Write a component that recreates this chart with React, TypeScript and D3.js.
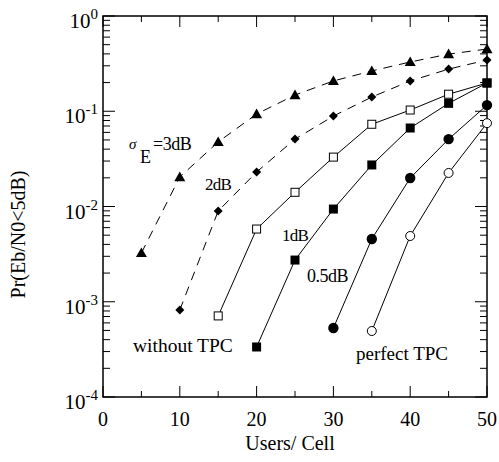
import React from 'react';
import * as d3 from 'd3';

// users per cell for each curve, and the probability
const sigma3Users = [5, 10, 15, 20, 25, 30, 35, 40, 45, 50];
const sigma3Pr = [3.25e-3, 0.0204, 0.0476, 0.0935, 0.148, 0.208, 0.265, 0.329, 0.398, 0.45];
const sigma2Users = [10, 15, 20, 25, 30, 35, 40, 45, 50];
const sigma2Pr = [8.2e-4, 8.97e-3, 0.023, 0.051, 0.089, 0.141, 0.208, 0.277, 0.345];
const openSquareUsers = [15, 20, 25, 30, 35, 40, 45, 50];
const openSquarePr = [7.1e-4, 5.8e-3, 0.0141, 0.033, 0.073, 0.103, 0.151, 0.198];
const filledSquareUsers = [20, 25, 30, 35, 40, 45, 50];
const filledSquarePr = [3.35e-4, 2.74e-3, 9.4e-3, 0.0273, 0.0667, 0.121, 0.198];
const filledCircleUsers = [30, 35, 40, 45, 50];
const filledCirclePr = [5.3e-4, 4.56e-3, 0.0199, 0.051, 0.116];
const openCircleUsers = [35, 40, 45, 50];
const openCirclePr = [4.93e-4, 4.9e-3, 0.0225, 0.075];

const xTicks = [0, 10, 20, 30, 40, 50];
const xMinorTicks = [5, 15, 25, 35, 45];
const yExponents = [0, -1, -2, -3, -4];

const W = 499, H = 462;
const margin = { top: 16, right: 12, bottom: 65, left: 103 };
const font = '"Liberation Serif", "Times New Roman", serif';

const x = d3.scaleLinear().domain([0, 50]).range([margin.left, W - margin.right]);
const y = d3.scaleLog().domain([1e-4, 1]).range([H - margin.bottom, margin.top]);

type P = { u: number; p: number };
const zip = (us: number[], ps: number[]): P[] => us.map((u, i) => ({ u, p: ps[i] }));

const line = d3.line<P>().x(d => x(d.u)).y(d => y(d.p));

function Marker({ kind, cx, cy }: { kind: string; cx: number; cy: number }) {
  if (kind === 'tri') {
    const s = 5.5;
    return <path d={`M${cx},${cy - s}L${cx + s},${cy + s * 0.75}L${cx - s},${cy + s * 0.75}Z`} fill="#000" />;
  }
  if (kind === 'dia') {
    const s = 4.5;
    return <path d={`M${cx},${cy - s}L${cx + s},${cy}L${cx},${cy + s}L${cx - s},${cy}Z`} fill="#000" />;
  }
  if (kind === 'sqo') return <rect x={cx - 4} y={cy - 4} width={8} height={8} fill="#fff" stroke="#000" strokeWidth={1} />;
  if (kind === 'sqf') return <rect x={cx - 4.5} y={cy - 4.5} width={9} height={9} fill="#000" />;
  if (kind === 'cf') return <circle cx={cx} cy={cy} r={5.2} fill="#000" />;
  return <circle cx={cx} cy={cy} r={4.5} fill="#fff" stroke="#000" strokeWidth={1} />;
}

const series = [
  { data: zip(sigma3Users, sigma3Pr), dash: '9,7', kind: 'tri' },
  { data: zip(sigma2Users, sigma2Pr), dash: '9,7', kind: 'dia' },
  { data: zip(openSquareUsers, openSquarePr), dash: null, kind: 'sqo' },
  { data: zip(filledSquareUsers, filledSquarePr), dash: null, kind: 'sqf' },
  { data: zip(filledCircleUsers, filledCirclePr), dash: null, kind: 'cf' },
  { data: zip(openCircleUsers, openCirclePr), dash: null, kind: 'co' },
];

export default function App() {
  const x0 = margin.left, x1 = W - margin.right;
  const y0 = H - margin.bottom, y1 = margin.top;
  const minorY: number[] = [];
  for (let e = -4; e < 0; e++) for (let m = 2; m <= 9; m++) minorY.push(m * Math.pow(10, e));

  return (
    <svg width={W} height={H} style={{ position: 'absolute', left: 0, top: 0, background: '#fff' }} fontFamily={font}>
      {/* frame */}
      <rect x={x0} y={y1} width={x1 - x0} height={y0 - y1} fill="none" stroke="#000" strokeWidth={1.5} />

      {/* x ticks, bottom and top, inward */}
      {xTicks.map(t => (
        <g key={'xt' + t}>
          <line x1={x(t)} x2={x(t)} y1={y0} y2={y0 - 11} stroke="#000" strokeWidth={1} />
          <line x1={x(t)} x2={x(t)} y1={y1} y2={y1 + 11} stroke="#000" strokeWidth={1} />
          <text x={x(t)} y={y0 + 29} fontSize={20} textAnchor="middle">{t}</text>
        </g>
      ))}
      {xMinorTicks.map(t => (
        <g key={'xm' + t}>
          <line x1={x(t)} x2={x(t)} y1={y0} y2={y0 - 6} stroke="#000" strokeWidth={1} />
          <line x1={x(t)} x2={x(t)} y1={y1} y2={y1 + 6} stroke="#000" strokeWidth={1} />
        </g>
      ))}

      {/* y ticks, log decades */}
      {yExponents.map(e => (
        <g key={'ye' + e}>
          <line x1={x0} x2={x0 + 12} y1={y(Math.pow(10, e))} y2={y(Math.pow(10, e))} stroke="#000" strokeWidth={1} />
          <line x1={x1} x2={x1 - 12} y1={y(Math.pow(10, e))} y2={y(Math.pow(10, e))} stroke="#000" strokeWidth={1} />
          <text x={98} y={y(Math.pow(10, e)) + 12} fontSize={21} textAnchor="end">
            10<tspan dy={-9} fontSize={15}>{e === 0 ? '0' : '-' + Math.abs(e)}</tspan>
          </text>
        </g>
      ))}
      {minorY.map(v => (
        <g key={'ym' + v}>
          <line x1={x0} x2={x0 + 7} y1={y(v)} y2={y(v)} stroke="#000" strokeWidth={1} />
          <line x1={x1} x2={x1 - 7} y1={y(v)} y2={y(v)} stroke="#000" strokeWidth={1} />
        </g>
      ))}

      {/* axis titles */}
      <text x={(x0 + x1) / 2 - 5} y={450} fontSize={20} textAnchor="middle">Users/ Cell</text>
      <text transform={`translate(25,${(y0 + y1) / 2 + 28}) rotate(-90)`} fontSize={20} textAnchor="middle">Pr(Eb/N0&lt;5dB)</text>

      {/* curves */}
      {series.map((s, i) => (
        <path key={'l' + i} d={line(s.data) || ''} fill="none" stroke="#000" strokeWidth={1} strokeDasharray={s.dash || undefined} />
      ))}
      {series.map((s, i) => (
        <g key={'m' + i}>
          {s.data.map(d => <Marker key={d.u} kind={s.kind} cx={x(d.u)} cy={y(d.p)} />)}
        </g>
      ))}

      {/* annotations */}
      <text x={129} y={149} fontSize={15} fontStyle="italic">σ</text>
      <text x={140} y={163} fontSize={18}>E</text>
      <text x={153} y={150} fontSize={18} letterSpacing={-0.5}>=3dB</text>
      <text x={205} y={190} fontSize={17} letterSpacing={-0.8}>2dB</text>
      <text x={282} y={241} fontSize={17} letterSpacing={-0.8}>1dB</text>
      <text x={307} y={282} fontSize={18} letterSpacing={-0.5}>0.5dB</text>
      <text x={133} y={352} fontSize={19.5}>without TPC</text>
      <text x={356} y={360} fontSize={19}>perfect TPC</text>
    </svg>
  );
}
